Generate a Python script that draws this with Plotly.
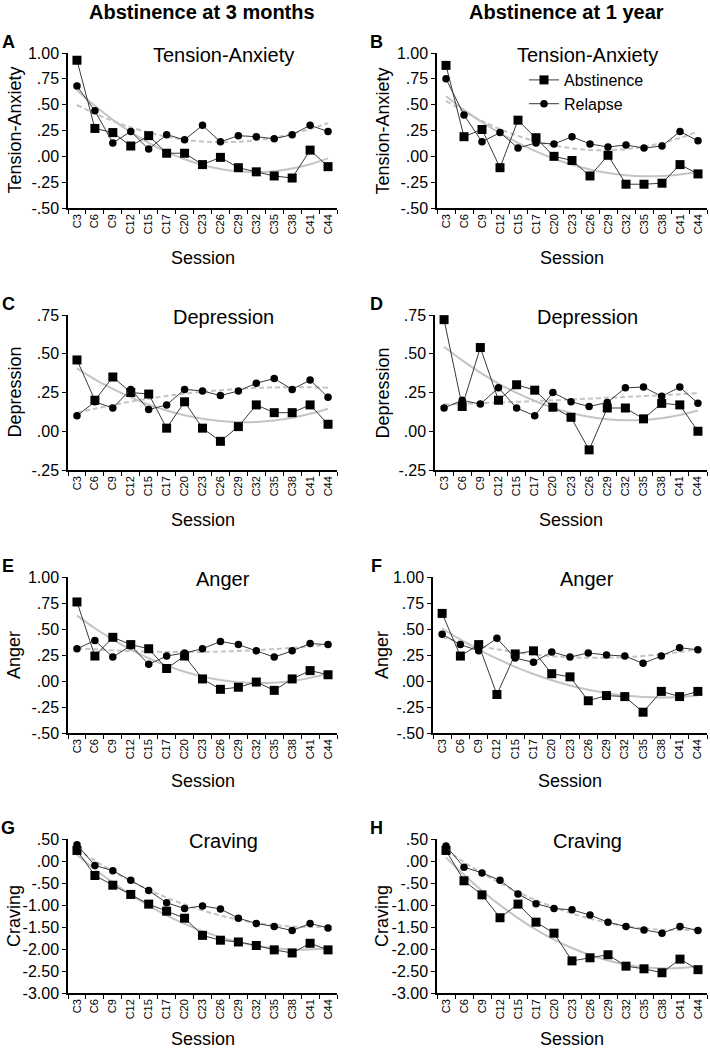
import numpy as np
import plotly.graph_objects as go

W, H = 710, 1050

sessions = ["C3", "C6", "C9", "C12", "C15", "C17", "C20", "C23",
            "C26", "C29", "C32", "C35", "C38", "C41", "C44"]

# Panel A: Tension-Anxiety, abstinence at 3 months
ta3_abst = [0.93, 0.27, 0.23, 0.10, 0.20, 0.03, 0.03, -0.08, -0.01, -0.11, -0.15, -0.19, -0.21, 0.06, -0.10]
ta3_rel = [0.68, 0.44, 0.13, 0.24, 0.07, 0.21, 0.16, 0.30, 0.14, 0.20, 0.19, 0.17, 0.21, 0.30, 0.24]
# Panel B: Tension-Anxiety, abstinence at 1 year
ta1_abst = [0.88, 0.19, 0.26, -0.11, 0.35, 0.18, 0.00, -0.04, -0.19, 0.01, -0.27, -0.27, -0.26, -0.08, -0.17]
ta1_rel = [0.75, 0.40, 0.14, 0.23, 0.08, 0.13, 0.12, 0.19, 0.12, 0.09, 0.11, 0.08, 0.10, 0.24, 0.15]
# Panel C: Depression, 3 months
dep3_abst = [0.46, 0.20, 0.35, 0.25, 0.24, 0.02, 0.19, 0.02, -0.065, 0.03, 0.17, 0.12, 0.12, 0.17, 0.045]
dep3_rel = [0.10, 0.19, 0.15, 0.27, 0.14, 0.17, 0.27, 0.26, 0.23, 0.26, 0.31, 0.34, 0.27, 0.33, 0.22]
# Panel D: Depression, 1 year
dep1_abst = [0.72, 0.16, 0.54, 0.20, 0.30, 0.265, 0.155, 0.09, -0.12, 0.15, 0.15, 0.08, 0.18, 0.17, 0.00]
dep1_rel = [0.15, 0.20, 0.175, 0.28, 0.15, 0.10, 0.25, 0.19, 0.16, 0.185, 0.28, 0.285, 0.225, 0.285, 0.18]
# Panel E: Anger, 3 months
ang3_abst = [0.76, 0.24, 0.42, 0.35, 0.31, 0.12, 0.24, 0.02, -0.08, -0.06, -0.01, -0.09, 0.02, 0.10, 0.06]
ang3_rel = [0.31, 0.39, 0.23, 0.34, 0.16, 0.24, 0.27, 0.31, 0.38, 0.35, 0.29, 0.23, 0.29, 0.36, 0.35]
# Panel F: Anger, 1 year
ang1_abst = [0.65, 0.24, 0.35, -0.13, 0.26, 0.29, 0.07, 0.04, -0.19, -0.14, -0.15, -0.30, -0.10, -0.15, -0.10]
ang1_rel = [0.45, 0.35, 0.29, 0.41, 0.22, 0.18, 0.28, 0.23, 0.27, 0.25, 0.24, 0.17, 0.24, 0.32, 0.30]
# Panel G: Craving, 3 months
crav3_abst = [0.24, -0.33, -0.55, -0.76, -0.98, -1.14, -1.30, -1.69, -1.80, -1.84, -1.92, -2.02, -2.09, -1.87, -2.02]
crav3_rel = [0.37, -0.10, -0.22, -0.44, -0.67, -0.95, -1.08, -1.02, -1.09, -1.30, -1.42, -1.49, -1.58, -1.42, -1.52]
# Panel H: Craving, 1 year
crav1_abst = [0.24, -0.45, -0.77, -1.29, -0.98, -1.39, -1.64, -2.27, -2.20, -2.13, -2.39, -2.45, -2.54, -2.23, -2.47]
crav1_rel = [0.34, -0.14, -0.27, -0.44, -0.75, -0.97, -1.08, -1.11, -1.23, -1.39, -1.49, -1.57, -1.64, -1.49, -1.58]

# Tick labels
ticks_main = [-0.5, -0.25, 0.0, 0.25, 0.5, 0.75, 1.0]
labels_main = ["-.50", "-.25", ".00", ".25", ".50", ".75", "1.00"]
ticks_dep = [-0.25, 0.0, 0.25, 0.5, 0.75]
labels_dep = ["-.25", ".00", ".25", ".50", ".75"]
ticks_crav = [-3.0, -2.5, -2.0, -1.5, -1.0, -0.5, 0.0, 0.5]
labels_crav = ["-3.00", "-2.50", "-2.00", "-1.50", "-1.00", "-.50", ".00", ".50"]

column_titles = ["Abstinence at 3 months", "Abstinence at 1 year"]
panel_letters = ["A", "B", "C", "D", "E", "F", "G", "H"]
panel_titles = ["Tension-Anxiety", "Tension-Anxiety", "Depression", "Depression",
                "Anger", "Anger", "Craving", "Craving"]
series_names = ["Abstinence", "Relapse"]

panels = [
    (ta3_abst, ta3_rel, ticks_main, labels_main),
    (ta1_abst, ta1_rel, ticks_main, labels_main),
    (dep3_abst, dep3_rel, ticks_dep, labels_dep),
    (dep1_abst, dep1_rel, ticks_dep, labels_dep),
    (ang3_abst, ang3_rel, ticks_main, labels_main),
    (ang1_abst, ang1_rel, ticks_main, labels_main),
    (crav3_abst, crav3_rel, ticks_crav, labels_crav),
    (crav1_abst, crav1_rel, ticks_crav, labels_crav),
]

# Plot-area boxes in pixels: (left, right, top, bottom)
boxes = [
    (68, 337, 53, 208), (437, 707, 53, 208),
    (68, 337, 315, 470), (435, 707, 315, 470),
    (68, 337, 577, 733), (433, 707, 577, 733),
    (68, 337, 839, 993), (437, 707, 839, 993),
]
session_gap = [50, 50, 50, 50, 48, 48, 46, 46]

FONT = "Liberation Sans, Arial, sans-serif"
LINE_COL = "#3a3a3a"
TREND_COL = "#c4c4c4"

fig = go.Figure()
layout = dict(
    width=W, height=H,
    margin=dict(l=0, r=0, t=0, b=0, pad=0, autoexpand=False),
    paper_bgcolor="white", plot_bgcolor="white",
    font=dict(family=FONT, color="black"),
)

xpos = np.arange(1, len(sessions) + 1)
annotations = []
for i, ((abst, rel, tv, tt), (l, r, t, b)) in enumerate(zip(panels, boxes)):
    n = i + 1
    xa = "x" if n == 1 else f"x{n}"
    ya = "y" if n == 1 else f"y{n}"
    # quadratic trend lines (as Excel polynomial trendlines) from the data
    for vals, dash in ((abst, "solid"), (rel, "5px,3px")):
        coef = np.polyfit(xpos, vals, 2)
        fit = np.polyval(coef, xpos)
        fig.add_trace(go.Scatter(
            x=sessions, y=fit, mode="lines", xaxis=xa, yaxis=ya,
            line=dict(color=TREND_COL, width=2, dash=dash, shape="spline"),
            showlegend=False, hoverinfo="skip"))
    for vals, sym, size, name in ((abst, "square", 9, series_names[0]),
                                   (rel, "circle", 7.5, series_names[1])):
        fig.add_trace(go.Scatter(
            x=sessions, y=vals, mode="lines+markers", xaxis=xa, yaxis=ya,
            name=name, showlegend=(n == 2),
            line=dict(color=LINE_COL, width=1),
            marker=dict(symbol=sym, size=size, color="black")))
    xkey = "xaxis" if n == 1 else f"xaxis{n}"
    ykey = "yaxis" if n == 1 else f"yaxis{n}"
    layout[xkey] = dict(
        domain=[l / W, r / W], anchor=ya, type="category",
        categoryorder="array", categoryarray=sessions,
        range=[-0.5, len(sessions) - 0.5], automargin=False,
        showline=True, linecolor="black", linewidth=1.5,
        ticks="outside", tickson="boundaries", ticklen=4, tickwidth=1.2, tickcolor="black",
        tickangle=-90, tickfont=dict(size=11, family=FONT, color="black"),
        showgrid=False, zeroline=False, fixedrange=True)
    layout[ykey] = dict(
        domain=[1 - b / H, 1 - t / H], anchor=xa, automargin=False,
        range=[tv[0], tv[-1]], tickvals=tv, ticktext=tt,
        showline=True, linecolor="black", linewidth=1.5,
        ticks="outside", ticklen=4, tickwidth=1.2, tickcolor="black",
        tickfont=dict(size=16, family=FONT, color="black"),
        showgrid=False, zeroline=False, fixedrange=True)
    # panel title
    annotations.append(dict(
        text=panel_titles[i], x=((223 if n % 2 == 1 else 587)) / W,
        y=1 - (t + 2) / H, xref="paper", yref="paper",
        xanchor="center", yanchor="middle", showarrow=False,
        font=dict(size=20, family=FONT, color="black")))
    # panel letter
    annotations.append(dict(
        text=f"<b>{panel_letters[i]}</b>", x=((8 if n % 2 == 1 else 377)) / W,
        y=1 - (t - 11) / H, xref="paper", yref="paper",
        xanchor="center", yanchor="middle", showarrow=False,
        font=dict(size=18, family=FONT, color="black")))
    # y axis title
    annotations.append(dict(
        text=panel_titles[i], x=((14 if n % 2 == 1 else 382)) / W,
        y=1 - ((t + b) / 2) / H, xref="paper", yref="paper",
        xanchor="center", yanchor="middle", textangle=-90, showarrow=False,
        font=dict(size=18, family=FONT, color="black")))
    # x axis title
    annotations.append(dict(
        text="Session", x=((l + r) / 2) / W,
        y=1 - (b + session_gap[i]) / H, xref="paper", yref="paper",
        xanchor="center", yanchor="middle", showarrow=False,
        font=dict(size=18, family=FONT, color="black")))

for j, ct in enumerate(column_titles):
    annotations.append(dict(
        text=f"<b>{ct}</b>", x=(202 if j == 0 else 566) / W, y=1 - 12 / H,
        xref="paper", yref="paper", xanchor="center", yanchor="middle",
        showarrow=False, font=dict(size=20, family=FONT, color="black")))

layout["annotations"] = annotations
layout["showlegend"] = True
layout["legend"] = dict(
    x=524 / W, y=1 - 63 / H, xanchor="left", yanchor="top",
    bgcolor="rgba(0,0,0,0)", font=dict(size=16, family=FONT, color="black"),
    tracegroupgap=0, itemwidth=30)
fig.update_layout(**layout)

fig.write_html(
    "out.html",
    config={"displayModeBar": False},
    post_script="document.body.style.margin='0px';document.body.style.overflow='hidden';")
